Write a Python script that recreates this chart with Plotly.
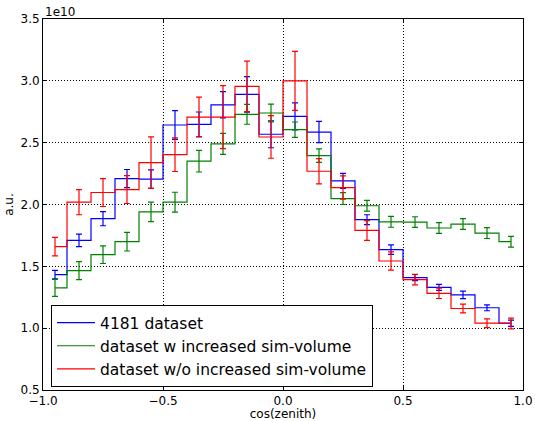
import plotly.graph_objects as go

# bin centres of cos(zenith)
centers = [-0.95, -0.85, -0.75, -0.65, -0.55, -0.45, -0.35, -0.25, -0.15, -0.05,
           0.05, 0.15, 0.25, 0.35, 0.45, 0.55, 0.65, 0.75, 0.85, 0.95]

# values in units of 1e10
blue_vals = [1.433, 1.71, 1.885, 2.21, 2.205, 2.643, 2.648, 2.806, 2.89, 2.568,
             2.713, 2.586, 2.191, 1.877, 1.635, 1.409, 1.33, 1.269, 1.165, 1.04]
blue_err = [0.035, 0.05, 0.057, 0.073, 0.075, 0.116, 0.10, 0.106, 0.144, 0.109,
            0.109, 0.086, 0.06, 0.04, 0.038, 0.025, 0.024, 0.03, 0.024, 0.025]

green_vals = [1.326, 1.465, 1.594, 1.699, 1.941, 2.019, 2.35, 2.49, 2.729, 2.74,
              2.605, 2.395, 2.048, 1.99, 1.86, 1.858, 1.81, 1.842, 1.769, 1.699]
green_err = [0.069, 0.073, 0.071, 0.075, 0.079, 0.08, 0.087, 0.085, 0.08, 0.072,
             0.062, 0.055, 0.048, 0.043, 0.044, 0.043, 0.044, 0.043, 0.044, 0.044]

red_vals = [1.659, 2.019, 2.097, 2.121, 2.339, 2.403, 2.707, 2.707, 2.955, 2.546,
            3.0, 2.269, 2.137, 1.79, 1.543, 1.393, 1.282, 1.159, 1.04, 1.038]
red_err = [0.075, 0.102, 0.113, 0.113, 0.208, 0.136, 0.161, 0.255, 0.204, 0.172,
           0.239, 0.102, 0.094, 0.08, 0.074, 0.043, 0.042, 0.035, 0.035, 0.043]

labels = ["4181 dataset", "dataset w increased sim-volume", "dataset w/o increased sim-volume"]
colors = ["#0000ff", "#008000", "#ff0000"]

x_ticks = [-1.0, -0.5, 0.0, 0.5, 1.0]
x_ticktext = ["\u22121.0", "\u22120.5", "0.0", "0.5", "1.0"]
y_ticks = [0.5, 1.0, 1.5, 2.0, 2.5, 3.0, 3.5]
y_ticktext = ["0.5", "1.0", "1.5", "2.0", "2.5", "3.0", "3.5"]

fig = go.Figure()
for vals, errs, lab, col in zip([blue_vals, green_vals, red_vals],
                                [blue_err, green_err, red_err], labels, colors):
    fig.add_trace(go.Scatter(
        x=centers, y=vals, mode="lines", name=lab,
        line=dict(color=col, width=1.2, shape="hvh"),
        error_y=dict(type="data", array=errs, visible=True, color=col,
                     thickness=1.2, width=3),
    ))

font = "DejaVu Sans, Verdana, sans-serif"
fig.update_layout(
    width=535, height=421,
    margin=dict(l=43, r=12, t=19, b=31),
    paper_bgcolor="white", plot_bgcolor="white",
    font=dict(family=font, size=12, color="black"),
    showlegend=True,
    legend=dict(x=0.0167, y=0.008, xanchor="left", yanchor="bottom",
                bgcolor="white", bordercolor="black", borderwidth=1,
                font=dict(size=15.5, family=font), tracegroupgap=0,
                itemwidth=38),
    xaxis=dict(range=[-1, 1], tickvals=x_ticks, ticktext=x_ticktext,
               showgrid=True, gridcolor="black", griddash="1px,2px", gridwidth=1,
               zeroline=False, showline=True, linecolor="black", linewidth=1,
               mirror="ticks", ticks="inside", ticklen=4, tickcolor="black",
               automargin=False,
               title=dict(text="cos(zenith)", standoff=2, font=dict(size=12))),
    yaxis=dict(range=[0.5, 3.5], tickvals=y_ticks, ticktext=y_ticktext,
               showgrid=True, gridcolor="black", griddash="1px,2px", gridwidth=1,
               zeroline=False, showline=True, linecolor="black", linewidth=1,
               mirror="ticks", ticks="inside", ticklen=4, tickcolor="black",
               automargin=False,
               title=dict(text="a.u.", standoff=4, font=dict(size=12))),
    annotations=[dict(text="1e10", xref="paper", yref="paper", x=0, y=1,
                      xanchor="left", yanchor="bottom", showarrow=False,
                      font=dict(size=12, family=font), yshift=-2)],
)

fig.write_html("out.html")
